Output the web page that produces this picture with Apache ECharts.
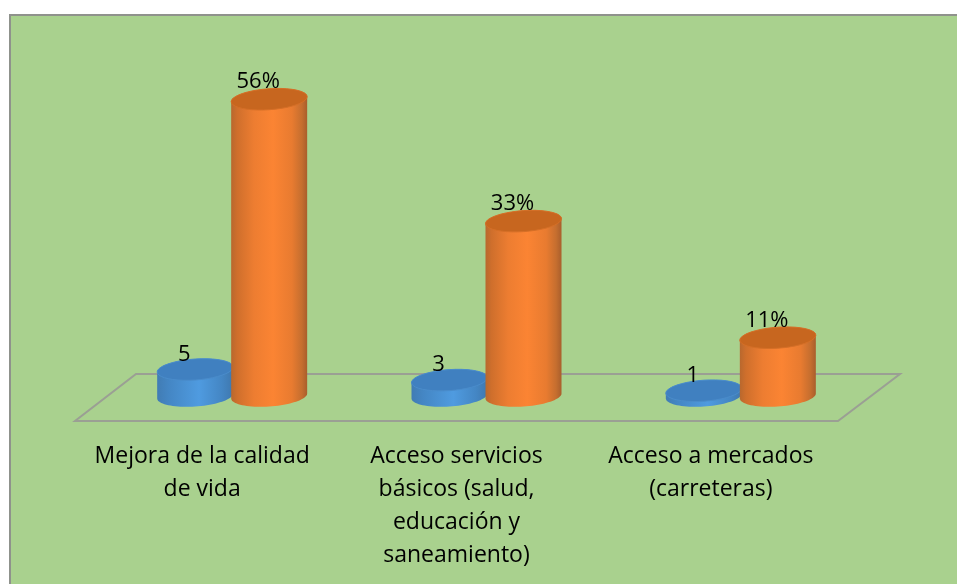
<!DOCTYPE html>
<html>
<head>
<meta charset="utf-8">
<style>html,body{margin:0;padding:0;background:#fff}#c{width:957px;height:584px}</style>
<script src="https://cdn.jsdelivr.net/npm/echarts@6/dist/echarts.min.js"></script>
</head>
<body>
<div id="c"></div>
<script>
var categories = ['Mejora de la calidad\nde vida', 'Acceso servicios\nbásicos (salud,\neducación y\nsaneamiento)', 'Acceso a mercados\n(carreteras)'];
var countValues = [5, 3, 1];
var percentValues = [56, 33, 11];
var percentLabels = ['56%', '33%', '11%'];

var DEPTH_X = 30, DEPTH_Y = 25, RX = 38, RY = 10.5, TILT = 2.5, BAR_OFFSET = 37;

function ring(cx, cy, from, to) {
  var pts = [], n = 40;
  for (var i = 0; i <= n; i++) {
    var t = from + (to - from) * i / n;
    pts.push([cx + RX * Math.cos(t), cy + RY * Math.sin(t) - TILT * Math.cos(t)]);
  }
  return pts;
}
function grad(stops) {
  return {type: 'linear', x: 0, y: 0, x2: 1, y2: 0,
    colorStops: stops.map(function (s) { return {offset: s[0], color: s[1]}; })};
}
function cylinder(side, stops, topColor, rimColor, labels, fontSize, labelDy) {
  return function (params, api) {
    var cat = api.value(0), val = api.value(1);
    var p = api.coord([cat, val]), b = api.coord([cat, 0]);
    var cx = p[0] + DEPTH_X + side * BAR_OFFSET;
    var topY = p[1] - DEPTH_Y, baseY = b[1] - DEPTH_Y;
    var body = ring(cx, baseY, 0, Math.PI).concat(ring(cx, topY, Math.PI, 2 * Math.PI));
    return {
      type: 'group',
      children: [
        {type: 'polygon', shape: {points: body}, style: {fill: grad(stops)}},
        {type: 'polygon', shape: {points: ring(cx, topY, 0, 2 * Math.PI)}, style: {fill: topColor, stroke: rimColor, lineWidth: 1}},
        {type: 'text', x: cx - 11, y: topY + labelDy, style: {
          text: labels[params.dataIndex], fill: '#000', fontFamily: 'Open Sans',
          fontSize: fontSize, align: 'center', verticalAlign: 'middle'}}
      ]
    };
  };
}
function floorItem(params, api) {
  var c = params.coordSys, fy = c.y + c.height;
  return {
    type: 'polygon',
    shape: {points: [[c.x, fy], [c.x + c.width, fy], [c.x + c.width + 62, fy - 47], [c.x + 61, fy - 47]]},
    style: {fill: 'none', stroke: '#9b9f94', lineWidth: 2}
  };
}

var chart = echarts.init(document.getElementById('c'), null, {renderer: 'canvas'});
chart.setOption({
  animation: false,
  backgroundColor: '#fff',
  graphic: [{type: 'rect', z: -10, silent: true, shape: {x: 10, y: 15, width: 960, height: 580},
    style: {fill: '#A9D18E', stroke: '#8f928c', lineWidth: 2}}],
  grid: {left: 75, width: 763, top: 103, height: 318},
  xAxis: {
    type: 'category', data: categories,
    axisLine: {show: false}, axisTick: {show: false},
    axisLabel: {interval: 0, color: '#000', fontFamily: 'Open Sans', fontSize: 23, lineHeight: 33, margin: 19, align: 'center'}
  },
  yAxis: {type: 'value', min: 0, max: 60, show: false, splitLine: {show: false}},
  series: [
    {type: 'custom', silent: true, clip: false, data: [[0, 0]], renderItem: floorItem, z: 1},
    {type: 'custom', name: 'Cantidad', silent: true, clip: false, z: 2,
      data: countValues.map(function (v, i) { return [i, v]; }),
      renderItem: cylinder(-1,
        [[0, '#417cb4'], [0.15, '#4486c4'], [0.55, '#4f9be0'], [0.85, '#4486c4'], [1, '#3f78ae']],
        '#4080c0', '#4a8ccb', countValues, 22, -15)},
    {type: 'custom', name: 'Porcentaje', silent: true, clip: false, z: 3,
      data: percentValues.map(function (v, i) { return [i, v]; }),
      renderItem: cylinder(1,
        [[0, '#b8682e'], [0.08, '#cf6f2c'], [0.3, '#ed7d31'], [0.55, '#fb8433'], [0.8, '#e87b30'], [0.93, '#c56e2f'], [1, '#a95e2c']],
        '#c7661f', '#d56f27', percentLabels, 22, -17)}
  ]
});
</script>
</body>
</html>
